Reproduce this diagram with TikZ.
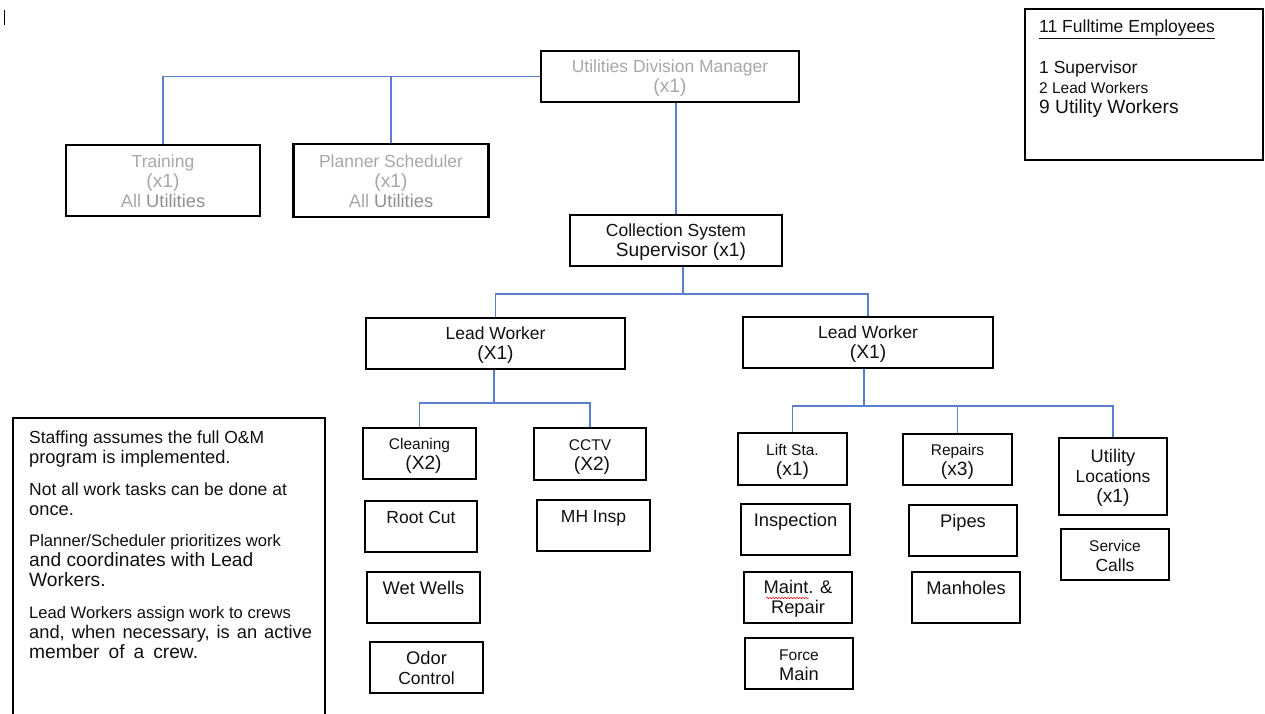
\documentclass[tikz,border=0pt]{standalone}
\usepackage{fontspec}
\setmainfont{Liberation Sans}
\usetikzlibrary{decorations.pathmorphing}
\definecolor{conncol}{HTML}{5B7FC8}
\definecolor{greytxt}{HTML}{A8A8A8}
\definecolor{greydark}{HTML}{909090}
\definecolor{inkcol}{HTML}{111111}
\newcommand\fsA{\fontsize{15.5}{20}\selectfont}
\newcommand\fsB{\fontsize{17.5}{20}\selectfont}
\newcommand\fsC{\fontsize{18.3}{20}\selectfont}
\newcommand\fsD{\fontsize{19.2}{20}\selectfont}
\newcommand\fsE{\fontsize{16.6}{20}\selectfont}
\newcommand\st{\rule[-2pt]{0pt}{18pt}}
\begin{document}
\begin{tikzpicture}[x=1pt,y=-1pt,
  box/.style={draw=black, line width=2.4pt, inner sep=0pt, align=center, text=inkcol, font=\fsB},
  greybox/.style={box, text=greytxt},
  conn/.style={draw=conncol, line width=1.3pt},
  frame/.style={draw=black, line width=2.6pt},
  plain/.style={inner sep=0pt, align=left, text=inkcol, font=\fsB}]
\useasboundingbox (0,0) rectangle (1265,713);
\fill[white] (0,0) rectangle (1265,713);

% caret mark
\draw[line width=0.8pt] (4,10) -- (4,25);

% top level
\node[greybox, minimum width=258, minimum height=51] (udm) at (670,76.5)
  {\st Utilities Division Manager\\\st{\fsD (x1)}};
\node[greybox, minimum width=194, minimum height=71] (train) at (163,180.5)
  {\st Training\\\st{\fsD (x1)}\\\st{\fsC All {\color{greydark}Utilities}}};
\node[greybox, minimum width=195, minimum height=73] (plan) at (391,180.5)
  {\st Planner Scheduler\\\st{\fsD (x1)}\\\st{\fsC All {\color{greydark}Utilities}}};
\node[box, minimum width=212, minimum height=51] (coll) at (676,240.5)
  {\st Collection System\\\st\hspace*{10pt}{\fsD Supervisor (x1)}};

% lead workers
\node[box, minimum width=259, minimum height=51] (lw1) at (495.5,343.5)
  {\st Lead Worker\\\st{\fsD (X1)}};
\node[box, minimum width=250, minimum height=51] (lw2) at (868,342.5)
  {\st Lead Worker\\\st{\fsD (X1)}};

% left group
\node[box, minimum width=113, minimum height=51] (clean) at (419.5,453.5)
  {\st{\fsA Cleaning}\\\st\hspace*{8pt}{\fsD (X2)}};
\node[box, minimum width=112, minimum height=52] (cctv) at (590,454)
  {\st{\fsA CCTV}\\\st\hspace*{4pt}{\fsD (X2)}};
\node[box, minimum width=112, minimum height=51] (root) at (421,526.5)
  {\st Root Cut\\\st};
\node[box, minimum width=113, minimum height=51] (mh) at (593.5,525.5)
  {\st MH Insp\\\st};
\node[box, minimum width=113, minimum height=51] (wet) at (423.5,597.5)
  {\st{\fsC Wet Wells}\\\st};
\node[box, minimum width=113, minimum height=51] (odor) at (426.5,667.5)
  {\st{\fsC Odor}\\\st Control};

% right group
\node[box, minimum width=109, minimum height=52] (lift) at (792.5,459)
  {\st{\fsA Lift Sta.}\\\st{\fsD (x1)}};
\node[box, minimum width=109, minimum height=51] (rep) at (957.5,459.5)
  {\st{\fsA Repairs}\\\st{\fsD (x3)}};
\node[box, minimum width=108, minimum height=77] (util) at (1113,476.5)
  {\st{\fsC Utility}\\\st Locations\\\st{\fsD (x1)}};
\node[box, minimum width=109, minimum height=51] (insp) at (795.5,529.5)
  {\st{\fsC Inspection}\\\st};
\node[box, minimum width=108, minimum height=51] (pipes) at (963,530.5)
  {\st{\fsC Pipes}\\\st};
\node[box, minimum width=108, minimum height=51] (serv) at (1115,554.5)
  {\st{\fsA Service}\\\st Calls};
\node[box, minimum width=108, minimum height=51] (maint) at (798,597.5)
  {\st{\fsC Maint. \&}\\\st{\fsC Repair}};
\node[box, minimum width=108, minimum height=51] (manh) at (966,597.5)
  {\st{\fsC Manholes}\\\st};
\node[box, minimum width=108, minimum height=51] (force) at (799,663.5)
  {\st{\fsA Force}\\\st{\fsC Main}};

% spelling squiggle under "Maint."
\draw[red, line width=0.5pt, decorate, decoration={snake, amplitude=0.7pt, segment length=3pt}]
  (766,598) -- (809,598);

% connectors
\draw[conn] (udm.west) -- (udm.west -| train.north) -- (train.north);
\draw[conn] (udm.west -| plan.north) -- (plan.north);
\draw[conn] (coll.north |- udm.south) -- (coll.north);

\coordinate (j1) at (683,294);
\draw[conn] (coll.south -| j1) -- (j1);
\draw[conn] (lw1.north) -- (lw1.north |- j1) -- (lw2.north |- j1) -- (lw2.north);

\coordinate (j2) at (494,403);
\draw[conn] (lw1.south -| j2) -- (j2);
\draw[conn] (clean.north) -- (clean.north |- j2) -- (cctv.north |- j2) -- (cctv.north);

\coordinate (j3) at (864,406);
\draw[conn] (lw2.south -| j3) -- (j3);
\draw[conn] (lift.north) -- (lift.north |- j3) -- (util.north |- j3) -- (util.north);
\draw[conn] (rep.north |- j3) -- (rep.north);

% summary box
\draw[frame] (1025,9) rectangle (1263,160);
\node[plain, anchor=north west] (summary) at (1039,20)
  {\underline{11 Fulltime Employees}\\[21pt]
   {\fsB 1 Supervisor}\\
   {\fsA 2 Lead Workers}\\
   {\fsD 9 Utility Workers}};

% notes box
\draw[frame] (13,716) -- (13,418) -- (325,418) -- (325,716);
\node[plain, anchor=north west] (notes) at (29,431)
  {Staffing assumes the full O\&M\\
   {\fsC program is implemented.}\\[11.5pt]
   Not all work tasks can be done at\\
   {\fsC once.}\\[11.5pt]
   {\fsE Planner/Scheduler prioritizes work}\\
   {\fsD and coordinates with Lead}\\
   {\fsD Workers.}\\[11.5pt]
   {\fsE Lead Workers assign work to crews}\\
   {\fsC\spaceskip=7pt plus 1pt and, when necessary, is an active}\\
   {\fsD\spaceskip=9pt plus 1pt member of a crew.}};
\end{tikzpicture}
\end{document}
